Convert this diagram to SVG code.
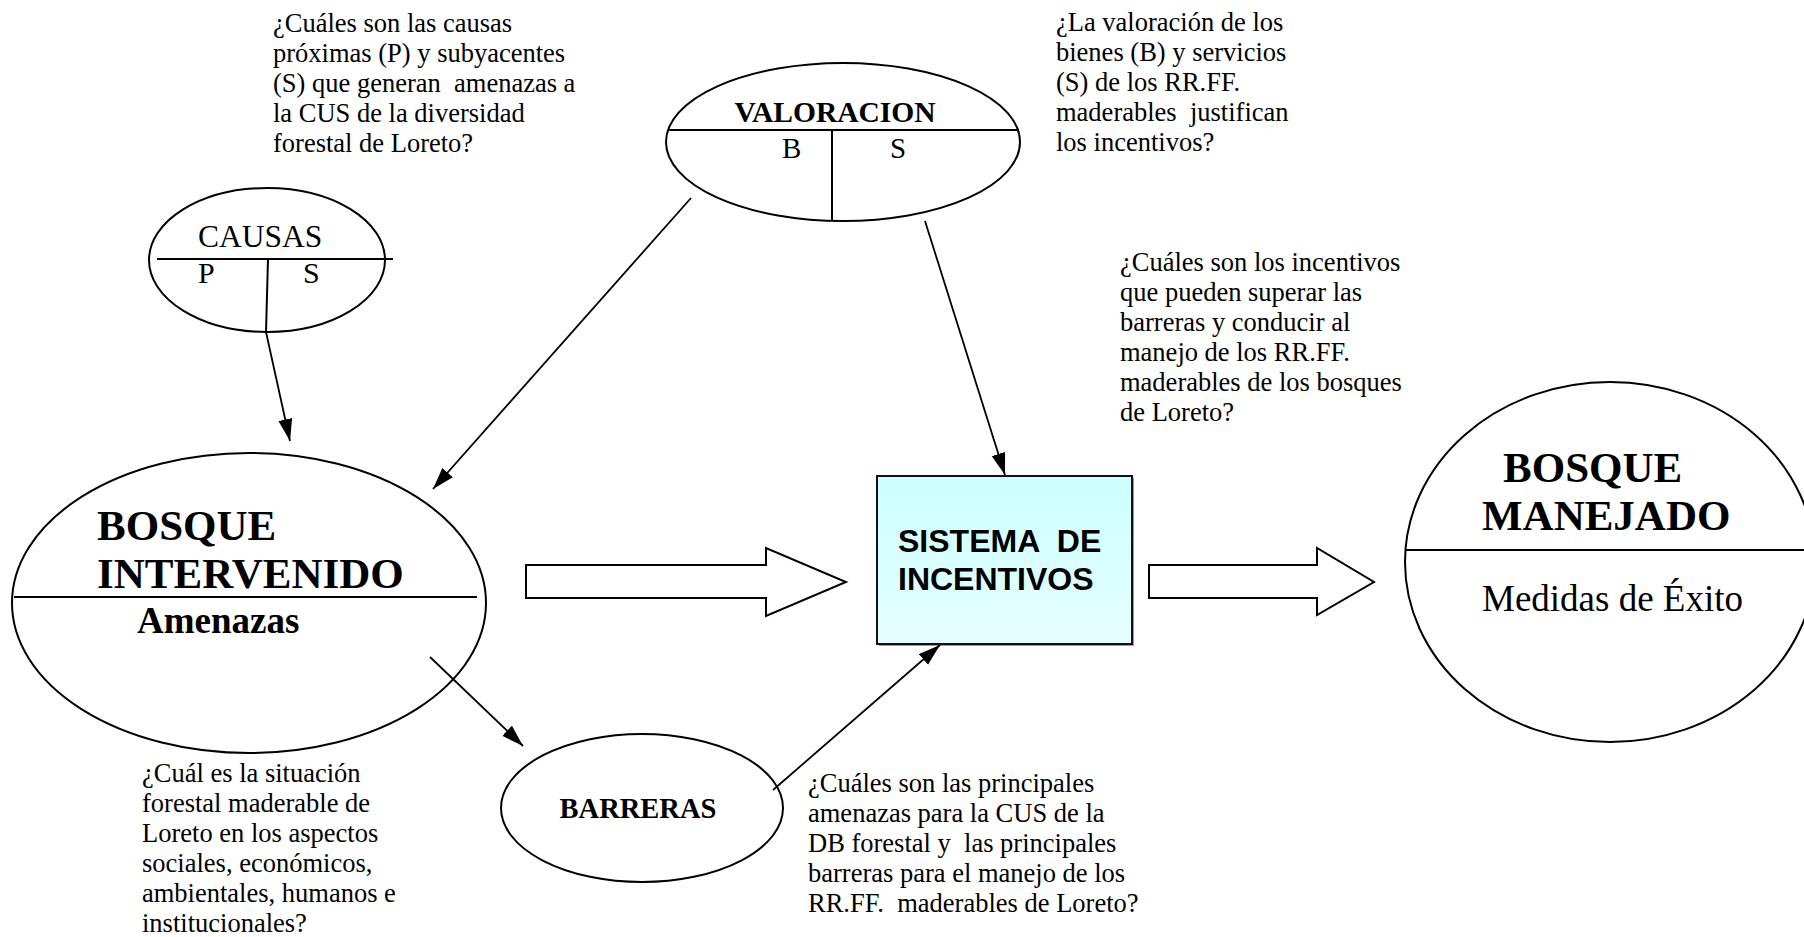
<svg xmlns="http://www.w3.org/2000/svg" width="1804" height="937" viewBox="0 0 1804 937">
<defs>
<marker id="ah" markerUnits="userSpaceOnUse" markerWidth="24" markerHeight="16" refX="22" refY="7" orient="auto">
<path d="M0,0 L22,7 L0,14 z" fill="#000"/>
</marker>
<linearGradient id="boxg" x1="0" y1="0" x2="0" y2="1">
<stop offset="0" stop-color="#CCFFFF"/>
<stop offset="1" stop-color="#E6FFFF"/>
</linearGradient>
</defs>
<style>
.q{font-family:"Liberation Serif","Times New Roman",serif;font-size:26.5px;fill:#000;white-space:pre}
.shape{fill:#fff;stroke:#000;stroke-width:2}
.ln{stroke:#000;stroke-width:2;fill:none}
.con{stroke:#000;stroke-width:1.8;fill:none;marker-end:url(#ah)}
.big{font-family:"Liberation Serif","Times New Roman",serif;font-weight:bold;font-size:43px}
.ser{font-family:"Liberation Serif","Times New Roman",serif}
.sans{font-family:"Liberation Sans",Arial,sans-serif;font-weight:bold;font-size:32px;white-space:pre}
</style>
<rect width="1804" height="937" fill="#fff"/>

<g id="q-causas">
<text class="q" x="273" y="32">¿Cuáles son las causas</text>
<text class="q" x="273" y="62">próximas (P) y subyacentes</text>
<text class="q" x="273" y="92">(S) que generan  amenazas a</text>
<text class="q" x="273" y="122">la CUS de la diversidad</text>
<text class="q" x="273" y="152">forestal de Loreto?</text>
</g>
<g id="q-valoracion">
<text class="q" x="1056" y="31">¿La valoración de los</text>
<text class="q" x="1056" y="61">bienes (B) y servicios</text>
<text class="q" x="1056" y="91">(S) de los RR.FF.</text>
<text class="q" x="1056" y="121">maderables  justifican</text>
<text class="q" x="1056" y="151">los incentivos?</text>
</g>
<g id="q-incentivos">
<text class="q" x="1120" y="271">¿Cuáles son los incentivos</text>
<text class="q" x="1120" y="301">que pueden superar las</text>
<text class="q" x="1120" y="331">barreras y conducir al</text>
<text class="q" x="1120" y="361">manejo de los RR.FF.</text>
<text class="q" x="1120" y="391">maderables de los bosques</text>
<text class="q" x="1120" y="421">de Loreto?</text>
</g>
<g id="q-situacion">
<text class="q" x="142" y="782">¿Cuál es la situación</text>
<text class="q" x="142" y="812">forestal maderable de</text>
<text class="q" x="142" y="842">Loreto en los aspectos</text>
<text class="q" x="142" y="872">sociales, económicos,</text>
<text class="q" x="142" y="902">ambientales, humanos e</text>
<text class="q" x="142" y="932">institucionales?</text>
</g>
<g id="q-barreras">
<text class="q" x="808" y="792">¿Cuáles son las principales</text>
<text class="q" x="808" y="822">amenazas para la CUS de la</text>
<text class="q" x="808" y="852">DB forestal y  las principales</text>
<text class="q" x="808" y="882">barreras para el manejo de los</text>
<text class="q" x="808" y="912">RR.FF.  maderables de Loreto?</text>
</g>

<g id="causas">
<ellipse class="shape" cx="267" cy="260" rx="118" ry="72"/>
<line class="ln" x1="157" y1="259" x2="393" y2="259"/>
<line class="ln" x1="268" y1="259" x2="266" y2="332"/>
<text class="ser" x="198" y="247" font-size="31.5">CAUSAS</text>
<text class="ser" x="198" y="283" font-size="30">P</text>
<text class="ser" x="303" y="283" font-size="30">S</text>
</g>

<g id="valoracion">
<ellipse class="shape" cx="843" cy="142" rx="177" ry="79"/>
<line class="ln" x1="668" y1="130" x2="1019" y2="130"/>
<line class="ln" x1="832" y1="130" x2="832" y2="221"/>
<text class="ser" x="835" y="122" font-size="29.5" font-weight="bold" text-anchor="middle">VALORACION</text>
<text class="ser" x="782" y="158" font-size="29">B</text>
<text class="ser" x="890" y="158" font-size="29">S</text>
</g>

<g id="bosque-intervenido">
<ellipse class="shape" cx="249" cy="603" rx="237" ry="150"/>
<line class="ln" x1="14" y1="597" x2="477" y2="597"/>
<text class="big" x="97" y="540">BOSQUE</text>
<text class="big" x="97" y="588">INTERVENIDO</text>
<text class="ser" x="137" y="633" font-size="37" font-weight="bold">Amenazas</text>
</g>

<g id="barreras">
<ellipse class="shape" cx="642" cy="808" rx="141" ry="74"/>
<text class="ser" x="638" y="818" font-size="28.5" font-weight="bold" text-anchor="middle">BARRERAS</text>
</g>

<g id="sistema">
<rect x="879" y="478" width="255" height="168" fill="#999"/>
<rect x="877" y="476" width="255" height="168" fill="url(#boxg)" stroke="#111" stroke-width="2"/>
<text class="sans" x="898" y="552">SISTEMA  DE</text>
<text class="sans" x="898" y="590">INCENTIVOS</text>
</g>

<g id="bosque-manejado">
<ellipse class="shape" cx="1610" cy="562" rx="205" ry="180"/>
<line class="ln" x1="1405" y1="550" x2="1804" y2="550"/>
<text class="big" x="1503" y="482">BOSQUE</text>
<text class="big" x="1482" y="530">MANEJADO</text>
<text class="ser" x="1482" y="611" font-size="37">Medidas de Éxito</text>
</g>

<g id="connectors">
<line class="con" x1="266" y1="332" x2="290" y2="441"/>
<line class="con" x1="691" y1="198" x2="433" y2="489"/>
<line class="con" x1="925" y1="221" x2="1005" y2="475"/>
<line class="con" x1="430" y1="657" x2="523" y2="746"/>
<line class="con" x1="773" y1="790" x2="940" y2="645"/>
<polygon class="shape" points="526,565 766,565 766,548 846,582 766,616 766,598 526,598"/>
<polygon class="shape" points="1149,565 1317,565 1317,548 1374,582 1317,615 1317,598 1149,598"/>
</g>
</svg>
